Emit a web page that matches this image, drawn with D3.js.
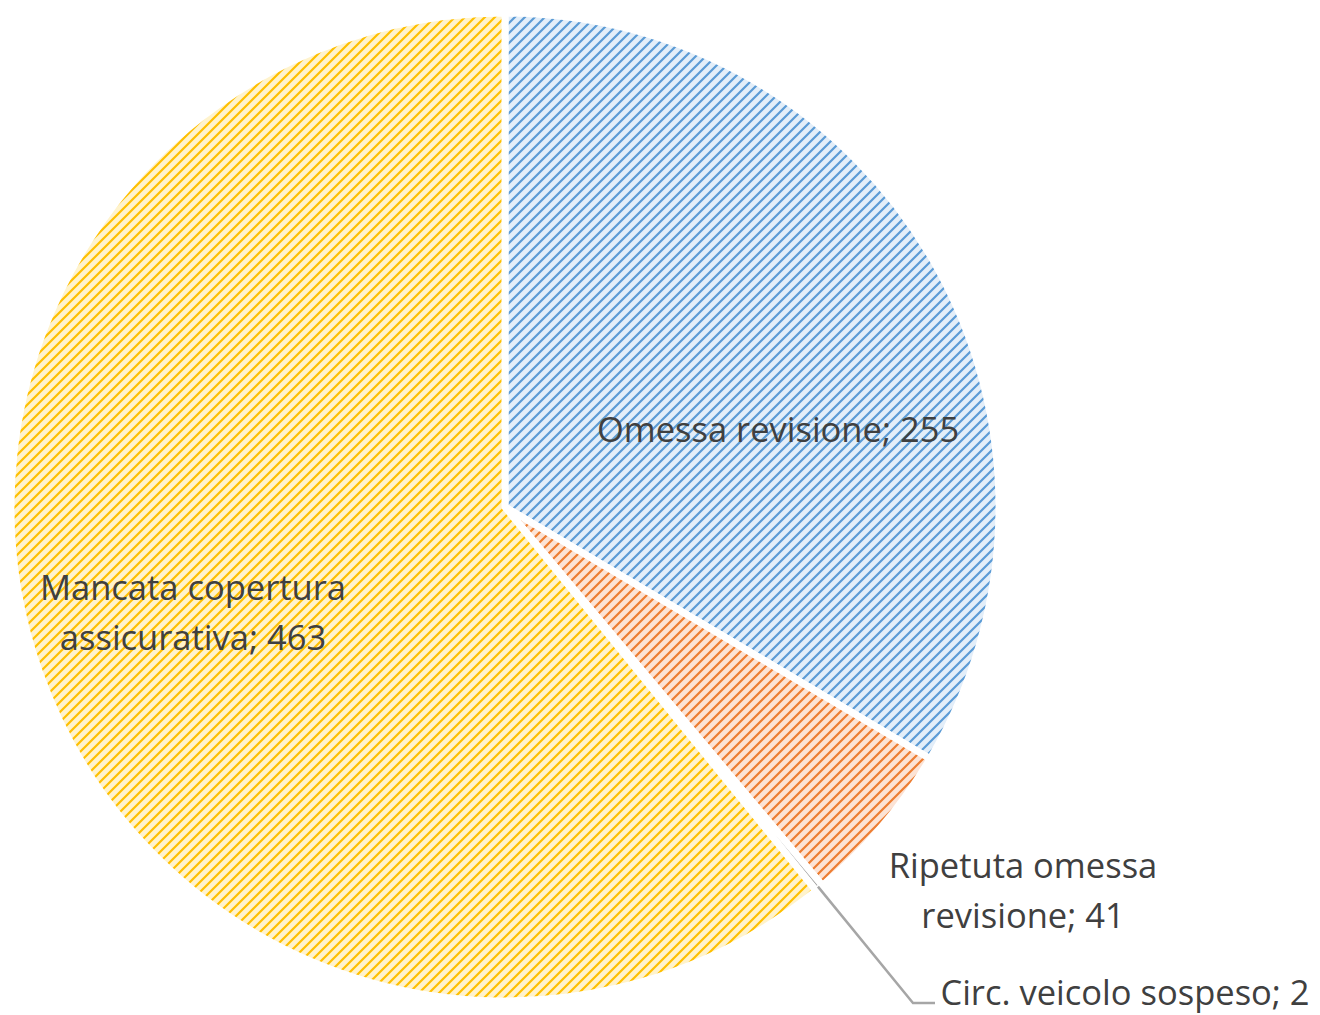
<!DOCTYPE html>
<html><head><meta charset="utf-8">
<script src="https://cdn.jsdelivr.net/npm/d3@7"></script>
<style>html,body{margin:0;padding:0;background:#fff;}svg{display:block;}</style>
</head><body>
<script>
const categories = ["Omessa revisione", "Ripetuta omessa revisione", "Circ. veicolo sospeso", "Mancata copertura assicurativa"];
const values = [255, 41, 2, 463];
const labelLines = [["Omessa revisione; 255"], ["Ripetuta omessa", "revisione; 41"], ["Circ. veicolo sospeso; 2"], ["Mancata copertura", "assicurativa; 463"]];
const lineColors = ["#5B9BD5", "#ED7D31", "#A5A5A5", "#FFC000"];
const bgColors = ["#e3eef9", "#fce3d5", "#e6e6e6", "#fff3cc"];

const W = 1320, H = 1015;
const cx = 505, cy = 507, R = 494;
const svg = d3.select("body").append("svg").attr("width", W).attr("height", H);
const defs = svg.append("defs");
const T = 10;
lineColors.forEach((c, i) => {
  const p = defs.append("pattern").attr("id", "pat" + i).attr("patternUnits", "userSpaceOnUse")
    .attr("width", T).attr("height", T);
  p.append("rect").attr("width", T).attr("height", T).attr("fill", bgColors[i]);
  p.append("path").attr("d", `M-1,${T+1} L${T+1},-1 M-2,2 L2,-2 M${T-2},${T+2} L${T+2},${T-2}`)
    .attr("stroke", c).attr("stroke-width", 2.2);
});

const pie = d3.pie().sort(null).value(d => d)(values);
const arc = d3.arc().innerRadius(0).outerRadius(R);
const g = svg.append("g").attr("transform", `translate(${cx},${cy})`);
g.selectAll("path.slice").data(pie).join("path").attr("class", "slice")
  .attr("d", arc)
  .attr("fill", (d, i) => i === 2 ? lineColors[2] : `url(#pat${i})`)
  .attr("stroke", "#fff").attr("stroke-width", 7).attr("stroke-linejoin", "round");

// leader line for tiny slice
const s = pie[2];
const mid = (s.startAngle + s.endAngle) / 2;
const p0 = [Math.sin(mid) * (R - 2), -Math.cos(mid) * (R - 2)];
const p1 = [913 - cx, 1003 - cy];
const p2 = [935 - cx, 1003 - cy];
g.append("path").attr("d", d3.line()([p0, p1, p2])).attr("fill", "none")
  .attr("stroke", "#a6a6a6").attr("stroke-width", 2.5);

const labelPos = [[778, 442], [1023, 878], [1125, 1005], [193, 600]];
const txt = svg.append("g").attr("font-family", "'Open Sans', 'DejaVu Sans', sans-serif")
  .attr("font-size", 34.5).attr("fill", "#404040").attr("text-anchor", "middle");
labelLines.forEach((lines, i) => {
  lines.forEach((l, j) => {
    txt.append("text").attr("x", labelPos[i][0]).attr("y", labelPos[i][1] + j * 50).text(l);
  });
});
</script>
</body></html>
